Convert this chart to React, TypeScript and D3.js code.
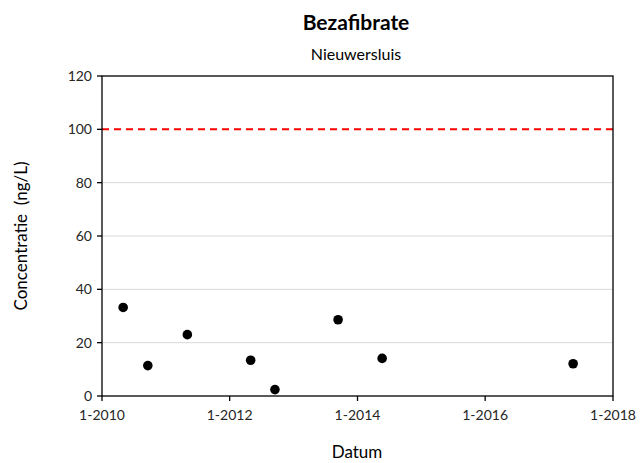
import * as d3 from 'd3';

const sampleDates = [
  '2010-05-02', '2010-09-20', '2011-05-04', '2012-04-30',
  '2012-09-16', '2013-09-12', '2014-05-22', '2017-05-18',
];
const concentrations = [33.2, 11.4, 23.0, 13.4, 2.4, 28.6, 14.1, 12.1];
const yTicks = [0, 20, 40, 60, 80, 100, 120];
const xTickYears = [2010, 2012, 2014, 2016, 2018];
const limitValue = 100;

const W = 640;
const H = 463;
const m = { left: 102, right: 613, top: 76, bottom: 396 };
const font = 'Lato, "Open Sans", sans-serif';

export default function App() {
  const parse = d3.timeParse('%Y-%m-%d');
  const points = sampleDates.map((d, i) => ({ date: parse(d) as Date, value: concentrations[i] }));

  const x = d3
    .scaleTime()
    .domain([new Date(2010, 0, 1), new Date(2018, 0, 1)])
    .range([m.left, m.right]);
  const y = d3.scaleLinear().domain([0, 120]).range([m.bottom, m.top]);

  return (
    <svg width={W} height={H} style={{ position: 'absolute', left: 0, top: 0 }} fontFamily={font}>
      <rect width={W} height={H} fill="#fff" />
      <text x={356} y={30} textAnchor="middle" fontSize={21} fontWeight="bold" fill="#000">
        Bezafibrate
      </text>
      <text x={356} y={60} textAnchor="middle" fontSize={16} fill="#000">
        Nieuwersluis
      </text>

      {yTicks
        .filter((t) => t > 0 && t < 120 && t !== limitValue)
        .map((t) => (
          <line key={t} x1={m.left} x2={m.right} y1={y(t)} y2={y(t)} stroke="#d9d9d9" strokeWidth={1} />
        ))}
      <line
        x1={m.left}
        x2={m.right}
        y1={y(limitValue)}
        y2={y(limitValue)}
        stroke="#ff0000"
        strokeWidth={2}
        strokeDasharray="7,5"
      />

      <rect
        x={m.left}
        y={m.top}
        width={m.right - m.left}
        height={m.bottom - m.top}
        fill="none"
        stroke="#000"
        strokeWidth={1.3}
      />

      {yTicks.map((t) => (
        <g key={t}>
          <line x1={m.left - 5} x2={m.left} y1={y(t)} y2={y(t)} stroke="#000" strokeWidth={1.3} />
          <text x={m.left - 10} y={y(t)} dy="0.35em" textAnchor="end" fontSize={14} fill="#262626">
            {t}
          </text>
        </g>
      ))}

      {xTickYears.map((yr) => {
        const px = x(new Date(yr, 0, 1));
        return (
          <g key={yr}>
            <line x1={px} x2={px} y1={m.bottom} y2={m.bottom + 5} stroke="#000" strokeWidth={1.3} />
            <text x={px} y={m.bottom + 24} textAnchor="middle" fontSize={14} fill="#262626">
              {`1-${yr}`}
            </text>
          </g>
        );
      })}

      {points.map((p, i) => (
        <circle key={i} cx={x(p.date)} cy={y(p.value)} r={4.8} fill="#000" />
      ))}

      <text x={357} y={458} textAnchor="middle" fontSize={17} fill="#000">
        Datum
      </text>
      <text
        transform={`translate(27, ${(m.top + m.bottom) / 2}) rotate(-90)`}
        textAnchor="middle"
        fontSize={17}
        fill="#000"
        style={{ whiteSpace: 'pre' }}
      >
        {'Concentratie  (ng/L)'}
      </text>
    </svg>
  );
}
